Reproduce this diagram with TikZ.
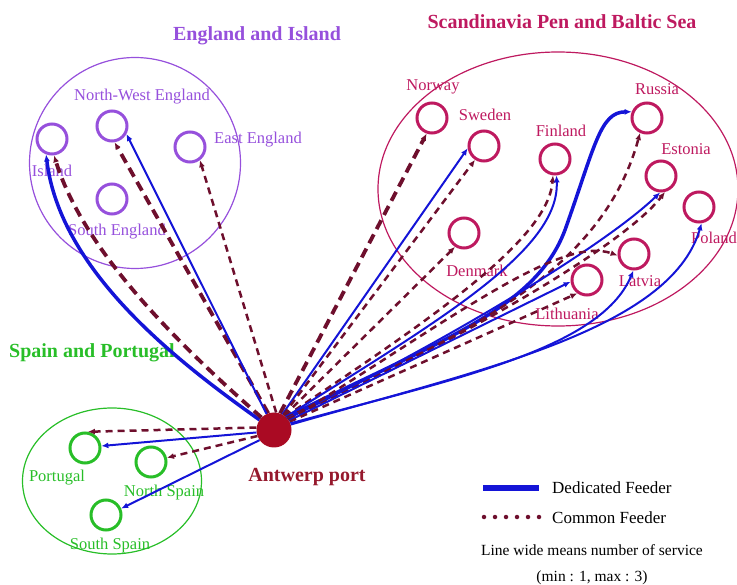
\documentclass[tikz,border=0pt]{standalone}
\usepackage{fontspec}
\setmainfont{Liberation Serif}
\usetikzlibrary{arrows.meta,shapes.geometric}
\definecolor{purp}{RGB}{150,80,220}
\definecolor{crim}{RGB}{190,25,95}
\definecolor{grn}{RGB}{40,190,40}
\definecolor{dblue}{RGB}{20,20,215}
\definecolor{maroon}{RGB}{110,15,45}
\definecolor{antred}{RGB}{170,10,35}
\definecolor{antlbl}{RGB}{150,25,45}
\begin{document}
\begin{tikzpicture}[x=1pt,y=-1pt,
  port/.style={circle, draw, line width=3pt, minimum size=30pt, inner sep=0pt},
  lbl/.style={font=\fontsize{16.5}{18}\selectfont, inner sep=0pt},
  ttl/.style={font=\fontsize{20}{22}\selectfont\bfseries, inner sep=0pt},
  grp/.style={draw, line width=1.2pt, inner sep=0pt},
  tip/.style={-{Latex[length=7pt,width=6pt]}},
  ded/.style={tip, draw=dblue, line width=2pt},
  dedT/.style={tip, draw=dblue, line width=3.5pt},
  com/.style={tip, draw=maroon, line width=2.5pt, dash pattern=on 7pt off 5pt},
  comT/.style={tip, draw=maroon, line width=3.8pt, dash pattern=on 10pt off 6pt},
  leg/.style={font=\fontsize{17}{19}\selectfont, inner sep=0pt, anchor=west},
  note/.style={font=\fontsize{15.5}{17}\selectfont, inner sep=0pt}
]
\useasboundingbox (0,0) rectangle (737,585);

% group outlines
\node[grp, circle, draw=purp, minimum size=211pt] (engG) at (135,163) {};
\node[grp, ellipse, draw=crim, minimum width=360pt, minimum height=274pt] (scaG) at (558,189) {};
\node[grp, ellipse, draw=grn, minimum width=179pt, minimum height=146pt] (spaG) at (112,481) {};

% titles
\node[ttl, text=purp] (engT) at (257,36) {England and Island};
\node[ttl, text=crim] (scaT) at (562,22) {Scandinavia Pen and Baltic Sea};
\node[ttl, text=grn] (spaT) at (92,353) {Spain and Portugal};

% England and Island
\node[port, draw=purp] (isl) at (52,139) {};
\node[port, draw=purp] (nwe) at (112,126) {};
\node[port, draw=purp] (ee) at (190,147) {};
\node[port, draw=purp] (se) at (112,199) {};
\node[lbl, text=purp] (islL) at (52,171) {Island};
\node[lbl, text=purp] (nweL) at (142,97) {North-West England};
\node[lbl, text=purp] (eeL) at (258,140) {East England};
\node[lbl, text=purp] (seL) at (117,232) {South England};

% Scandinavia
\node[port, draw=crim] (nor) at (432,118) {};
\node[port, draw=crim] (swe) at (484,146) {};
\node[port, draw=crim] (fin) at (555,159) {};
\node[port, draw=crim] (rus) at (647,118) {};
\node[port, draw=crim] (est) at (661,176) {};
\node[port, draw=crim] (pol) at (699,207) {};
\node[port, draw=crim] (den) at (464,233) {};
\node[port, draw=crim] (lat) at (634,254) {};
\node[port, draw=crim] (lit) at (587,280) {};
\node[lbl, text=crim] (norL) at (433,87) {Norway};
\node[lbl, text=crim] (sweL) at (485,115) {Sweden};
\node[lbl, text=crim] (finL) at (561,131) {Finland};
\node[lbl, text=crim] (rusL) at (657,89) {Russia};
\node[lbl, text=crim] (estL) at (686,149) {Estonia};
\node[lbl, text=crim] (polL) at (714,238) {Poland};
\node[lbl, text=crim] (denL) at (477,271) {Denmark};
\node[lbl, text=crim] (latL) at (640,281) {Latvia};
\node[lbl, text=crim] (litL) at (567,314) {Lithuania};

% Spain and Portugal
\node[port, draw=grn] (por) at (85,448) {};
\node[port, draw=grn] (nsp) at (151,462) {};
\node[port, draw=grn] (ssp) at (106,515) {};
\node[lbl, text=grn] (porL) at (57,478) {Portugal};
\node[lbl, text=grn] (nspL) at (164,493) {North Spain};
\node[lbl, text=grn] (sspL) at (110,546) {South Spain};

% Antwerp
\node[circle, fill=antred, minimum size=35pt, inner sep=0pt] (ant) at (274,430) {};
\node[ttl, text=antlbl] (antL) at (307,477) {Antwerp port};

% connectors: England and Island
\draw[dedT] (ant.145) .. controls (175,360) and (60,270) .. (isl.249);
\draw[comT] (ant.135) .. controls (185,350) and (85,255) .. (isl.277);
\draw[comT] (ant.109) -- (nwe.279);
\draw[ded] (ant.115) -- (nwe.331);
\draw[com] (ant.83) -- (ee.307);

% connectors: Scandinavia
\draw[comT] (ant.70) -- (nor.251);
\draw[ded] (ant.62) -- (swe.188);
\draw[com] (ant.58) -- (swe.237);
\draw[com] (ant.54) -- (den.237);
\draw[com] (ant.50) .. controls (430,320) and (548,240) .. (fin.263);
\draw[ded] (ant.48) .. controls (440,320) and (560,250) .. (fin.275);
\draw[dedT] (ant.46) .. controls (440,340) and (535,310) .. (565,230)
   .. controls (595,146) and (600,112) .. (rus.158);
\draw[com] (ant.44) .. controls (450,340) and (600,280) .. (rus.245);
\draw[ded] (ant.40) .. controls (430,350) and (600,250) .. (est.267);
\draw[com] (ant.38) .. controls (440,350) and (620,250) .. (est.284);
\draw[com] (ant.34) .. controls (450,320) and (560,235) .. (lat.185);
\draw[ded] (ant.32) -- (lit.186);
\draw[com] (ant.28) -- (lit.234);
\draw[ded] (ant.22) .. controls (450,380) and (600,350) .. (lat.268);
\draw[ded] (ant.18) .. controls (480,370) and (670,330) .. (pol.279);

% connectors: Spain and Portugal
\draw[com] (ant.172) -- (por.80);
\draw[ded] (ant.188) -- (por.7);
\draw[com] (ant.200) -- (nsp.15);
\draw[ded] (ant.215) -- (ssp.23);

% legend
\coordinate (l1a) at (483,488); \coordinate (l1b) at (539,488);
\coordinate (l2a) at (484,517); \coordinate (l2b) at (540,517);
\draw[dblue, line width=5pt] (l1a) -- (l1b);
\draw[maroon, line width=4.5pt, line cap=round, dash pattern=on 0pt off 11pt] (l2a) -- (l2b);
\node[leg] (legD) at (552,488) {Dedicated Feeder};
\node[leg] (legC) at (552,518) {Common Feeder};
\node[note] (legN) at (592,550) {Line wide means number of service};
\node[note] (legM) at (592,578) {(min : 1, max : 3)};
\end{tikzpicture}
\end{document}
